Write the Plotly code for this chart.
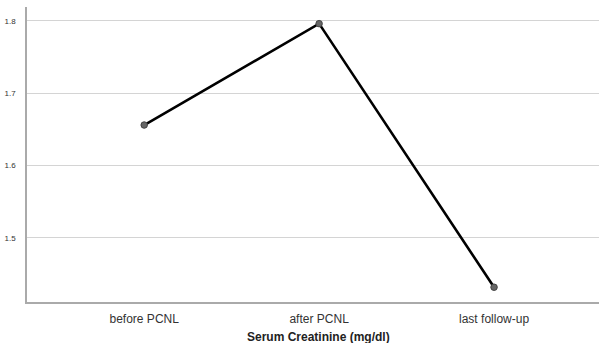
import plotly.graph_objects as go

categories = ["before PCNL", "after PCNL", "last follow-up"]
creatinine = [1.656, 1.796, 1.432]
y_ticks = [1.5, 1.6, 1.7, 1.8]
y_tick_labels = ["1.5", "1.6", "1.7", "1.8"]
x_title = "Serum Creatinine (mg/dl)"

fig = go.Figure()
fig.add_trace(go.Scatter(
    x=list(range(len(categories))), y=creatinine,
    mode="lines+markers",
    line=dict(color="black", width=2.6),
    marker=dict(size=6.5, color="#666666", line=dict(color="#444444", width=1)),
    showlegend=False,
))

plot_h = 343 - 7 - 41
fig.add_annotation(
    text="<b>" + x_title + "</b>",
    xref="paper", yref="paper", x=0.51, y=-(337 - 302) / plot_h,
    xanchor="center", yanchor="middle", showarrow=False,
    font=dict(size=12, color="#222222", family="Liberation Sans, Arial, sans-serif"),
)

fig.update_layout(
    width=599, height=343,
    margin=dict(l=27, r=0, t=7, b=41),
    paper_bgcolor="white", plot_bgcolor="white",
    font=dict(family="Liberation Sans, Arial, sans-serif", color="#222222"),
    xaxis=dict(
        range=[-0.67, 2.6],
        tickmode="array", tickvals=list(range(len(categories))), ticktext=categories,
        tickfont=dict(size=12, color="#333333"),
        showgrid=False, zeroline=False,
        showline=True, linecolor="#aaaaaa", linewidth=1.5,
        ticks="", ticklabelstandoff=5,
        automargin=False,
        fixedrange=True,
    ),
    yaxis=dict(
        range=[1.4116, 1.819],
        tickmode="array", tickvals=y_ticks, ticktext=y_tick_labels,
        tickfont=dict(size=8, color="#333333"),
        showgrid=True, gridcolor="#d4d4d4", gridwidth=1,
        zeroline=False,
        showline=True, linecolor="#aaaaaa", linewidth=1.5,
        ticks="", ticklabelstandoff=8,
        automargin=False,
        fixedrange=True,
    ),
)

fig.write_html(
    "out.html",
    config={"displayModeBar": False},
    post_script="document.body.style.margin='0px';document.body.style.padding='0px';",
)
